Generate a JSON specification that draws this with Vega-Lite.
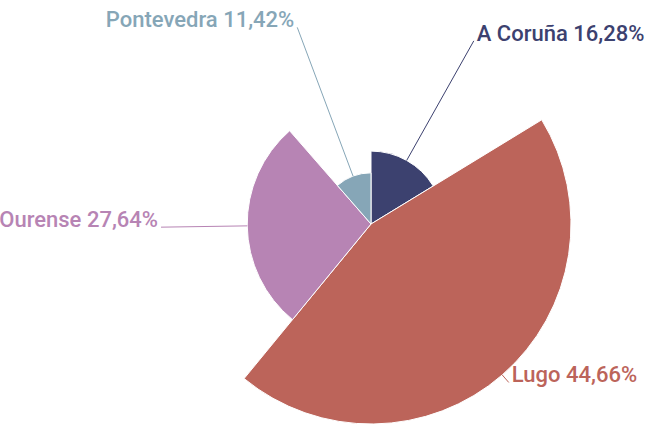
{
  "$schema": "https://vega.github.io/schema/vega-lite/v6.json",
  "width": 580,
  "height": 400,
  "autosize": "none",
  "padding": {"left": 81, "top": 24, "right": 0, "bottom": 0},
  "background": "white",
  "config": {"view": {"stroke": null}},
  "data": {
    "values": [
      {"provincia": "A Coruña", "pct": 16.28},
      {"provincia": "Lugo", "pct": 44.66},
      {"provincia": "Ourense", "pct": 27.64},
      {"provincia": "Pontevedra", "pct": 11.42}
    ]
  },
  "transform": [
    {"window": [{"op": "sum", "field": "pct", "as": "cum"}], "sort": [{"field": "provincia", "order": "ascending"}], "frame": [null, 0]},
    {"joinaggregate": [{"op": "sum", "field": "pct", "as": "total"}, {"op": "max", "field": "pct", "as": "maxpct"}]},
    {"calculate": "2*PI*(datum.cum - datum.pct/2)/datum.total", "as": "mid"},
    {"calculate": "200*datum.pct/datum.maxpct", "as": "r0"},
    {"calculate": "datum.r0*sin(datum.mid)", "as": "lx1"},
    {"calculate": "datum.r0*cos(datum.mid)", "as": "ly1"},
    {"calculate": "210*sin(datum.mid)", "as": "lx2"},
    {"calculate": "210*cos(datum.mid)", "as": "ly2"},
    {"calculate": "datum.provincia + ' ' + replace(format(datum.pct, '.2f'), '.', ',') + '%'", "as": "label"}
  ],
  "encoding": {
    "color": {
      "field": "provincia",
      "type": "nominal",
      "legend": null,
      "scale": {
        "domain": ["A Coruña", "Lugo", "Ourense", "Pontevedra"],
        "range": ["#3c416f", "#bc645a", "#b784b4", "#86a6b7"]
      }
    }
  },
  "layer": [
    {
      "mark": {"type": "arc", "stroke": "white", "strokeWidth": 1},
      "encoding": {
        "theta": {"field": "pct", "type": "quantitative", "stack": true},
        "radius": {"field": "pct", "type": "quantitative", "scale": {"type": "linear", "zero": true, "nice": false, "range": [0, 200]}},
        "order": {"field": "provincia", "sort": "ascending"}
      }
    },
    {
      "mark": {"type": "rule", "strokeWidth": 1},
      "encoding": {
        "x": {"field": "lx1", "type": "quantitative", "axis": null, "scale": {"domain": [-290, 290], "nice": false, "zero": false}},
        "y": {"field": "ly1", "type": "quantitative", "axis": null, "scale": {"domain": [-200, 200], "nice": false, "zero": false}},
        "x2": {"field": "lx2"},
        "y2": {"field": "ly2"}
      }
    },
    {
      "transform": [{"filter": "sin(datum.mid) >= 0"}],
      "mark": {"type": "text", "align": "left", "baseline": "alphabetic", "dx": 3, "font": "Roboto", "fontSize": 22, "fontWeight": 500},
      "encoding": {
        "x": {"field": "lx2", "type": "quantitative"},
        "y": {"field": "ly2", "type": "quantitative"},
        "text": {"field": "label", "type": "nominal"}
      }
    },
    {
      "transform": [{"filter": "sin(datum.mid) < 0"}],
      "mark": {"type": "text", "align": "right", "baseline": "alphabetic", "dx": -3, "font": "Roboto", "fontSize": 22, "fontWeight": 500},
      "encoding": {
        "x": {"field": "lx2", "type": "quantitative"},
        "y": {"field": "ly2", "type": "quantitative"},
        "text": {"field": "label", "type": "nominal"}
      }
    }
  ]
}
